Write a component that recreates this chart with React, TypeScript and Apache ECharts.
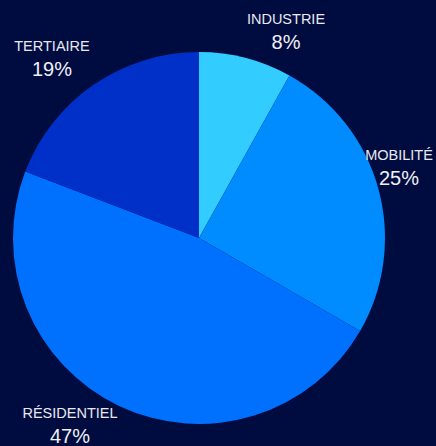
import React, { useEffect, useRef } from "react";
import * as echarts from "echarts";

const categories = ["INDUSTRIE", "MOBILITÉ", "RÉSIDENTIEL", "TERTIAIRE"];
const values = [8, 25, 47, 19];
const colors = ["#33ccff", "#008cff", "#0070ff", "#0030c8"];

// label block centres (pixels) beside each slice
const labelX = [286, 399, 70, 52];
const labelY = [31, 167, 425, 58];

export default function App() {
  const ref = useRef<HTMLDivElement>(null);
  useEffect(() => {
    document.body.style.margin = "0";
    document.body.style.background = "#000c40";
    const chart = echarts.init(ref.current!, null, { renderer: "svg" });
    chart.setOption({
      animation: false,
      backgroundColor: "#000c40",
      series: [
        {
          type: "pie",
          center: [199, 238],
          radius: 186,
          startAngle: 90,
          clockwise: true,
          data: categories.map((c, i) => ({
            name: c,
            value: values[i],
            itemStyle: { color: colors[i] },
          })),
          itemStyle: { borderWidth: 0 },
          label: {
            show: true,
            position: "outside",
            overflow: "none",
            edgeDistance: 0,
            bleedMargin: 0,
            formatter: (p: any) => `{n|${p.name}}\n{p|${p.value}%}`,
            rich: {
              n: {
                fontFamily: "Liberation Sans, Arial, sans-serif",
                fontSize: 14.5,
                color: "#e8e8ee",
                lineHeight: 21,
                align: "center",
              },
              p: {
                fontFamily: "Liberation Sans, Arial, sans-serif",
                fontSize: 20,
                color: "#f0f0f4",
                lineHeight: 24,
                align: "center",
              },
            },
          },
          labelLine: { show: false },
          labelLayout: (params: any) => ({
            x: labelX[params.dataIndex],
            y: labelY[params.dataIndex],
            align: "center",
            verticalAlign: "middle",
          }),
          emphasis: { disabled: true },
        },
      ],
    });
    return () => chart.dispose();
  }, []);
  return <div ref={ref} style={{ width: 436, height: 446 }} />;
}
